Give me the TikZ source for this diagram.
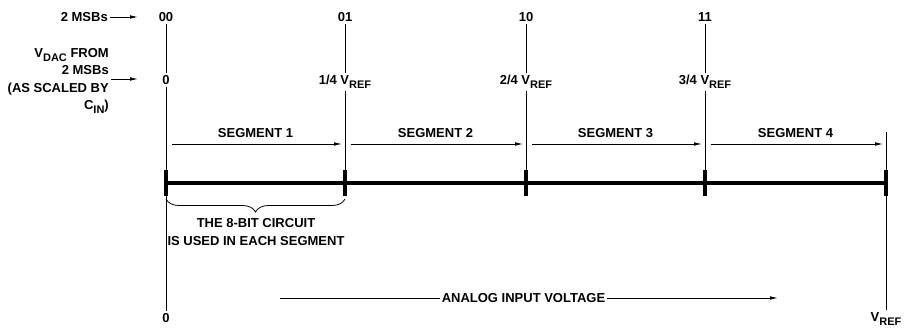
\documentclass[tikz,border=0pt]{standalone}
\usepackage{fontspec}
\setmainfont{Liberation Sans}
\usetikzlibrary{arrows.meta, positioning, calc, decorations.pathreplacing}
\tikzstyle{arrow} = [line width=0.8bp, ->, >={Latex[length=8bp,width=3.6bp]}]
\newcommand{\lowsub}[1]{\raisebox{-4bp}{\fontsize{11bp}{11bp}\selectfont #1}}

\begin{document}
\begin{tikzpicture}[
  x=1bp, y=1bp,
  every node/.style={font=\bfseries\fontsize{13bp}{17.5bp}\selectfont, inner sep=2bp},
  code/.style={anchor=base},
  level/.style={anchor=base},
  side/.style={align=right},
  note/.style={align=center, anchor=north},
  rule/.style={line width=0.8bp},
  axis/.style={line width=3.2bp},
  tick/.style={line width=3.4bp}
]
\useasboundingbox (0,0) rectangle (911,-328);

% Input codes and DAC levels
\node[code] (c00) at (166,-21.7) {00};
\node[code] (c01) at (345,-21.7) {01};
\node[code] (c10) at (526,-21.7) {10};
\node[code] (c11) at (705,-21.7) {11};

\node[level] (v0) at (166,-84.7) {0};
\node[level] (v1) at (345,-84.7) {1/4 V\lowsub{REF}};
\node[level] (v2) at (526,-84.7) {2/4 V\lowsub{REF}};
\node[level] (v3) at (705,-84.7) {3/4 V\lowsub{REF}};

% Left side labels
\node[side, anchor=base east] (msb) at (110,-21.7) {2 MSBs};
\node[side, anchor=north east] (vdac) at (111,-46.2)
  {V\lowsub{DAC} FROM\\2 MSBs\\(AS SCALED BY\\C\lowsub{IN})};
\coordinate (mtip) at (138,-17);
\coordinate (vtip) at (138,-79);
\draw[arrow] (msb.east |- mtip) -- (mtip);
\draw[arrow] (vdac.east |- vtip) -- (vtip);

% Scale points
\coordinate (t0) at (166,-183);
\coordinate (t1) at (345,-183);
\coordinate (t2) at (526,-183);
\coordinate (t3) at (705,-183);
\coordinate (t4) at (886,-183);
\coordinate (e4) at (886,-132);

\node[level] (b0) at (166,-322.7) {0};
\node[level] (vref) at (886,-321) {V\lowsub{REF}};

% Vertical lines
\draw[rule] (c00) -- (v0);  \draw[rule] (v0) -- (b0);
\draw[rule] (c01) -- (v1);  \draw[rule] (v1) -- (t1);
\draw[rule] (c10) -- (v2);  \draw[rule] (v2) -- (t2);
\draw[rule] (c11) -- (v3);  \draw[rule] (v3) -- (t3);
\draw[rule] (e4) -- (vref);

% Segments
\foreach \a/\b/\n in {t0/t1/1, t1/t2/2, t2/t3/3, t3/t4/4} {
  \draw[arrow] ([xshift=6bp, yshift=39bp]\a) -- ([xshift=-3bp, yshift=39bp]\b);
  \node[level] (seg\n) at ($([yshift=45.3bp]\a)!0.5!([yshift=45.3bp]\b)$) {SEGMENT \n};
}

% Axis and ticks
\draw[axis] (t0) -- (t4);
\foreach \t in {t0,t1,t2,t3,t4}
  \draw[tick] ([yshift=13bp]\t) -- ([yshift=-13bp]\t);

% Brace under segment 1
\coordinate (br0) at (166,-199);
\coordinate (br1) at (345,-199);
\draw[rule, decorate, decoration={brace, mirror, amplitude=13bp}] (br0) -- (br1);
\node[note] (circuit) at (256,-216.4) {THE 8-BIT CIRCUIT\\IS USED IN EACH SEGMENT};

% Analog input
\node (analog) at (523.5,-298) {ANALOG INPUT VOLTAGE};
\coordinate (an0) at (280,-298);
\coordinate (an1) at (778,-298);
\draw[rule] (an0) -- (analog.west);
\draw[arrow] (analog.east) -- (an1);
\end{tikzpicture}
\end{document}
